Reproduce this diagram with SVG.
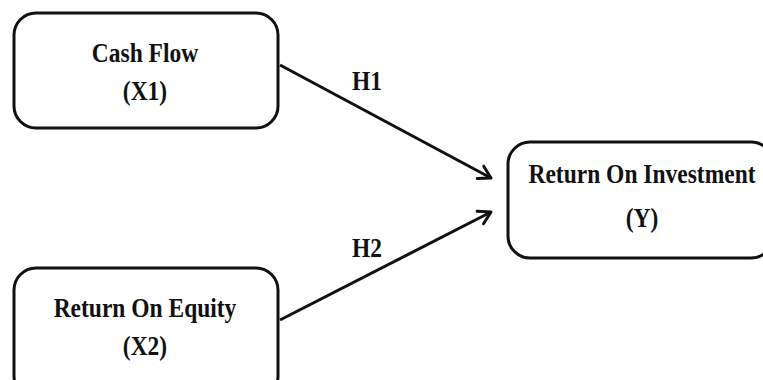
<svg xmlns="http://www.w3.org/2000/svg" width="763" height="380" viewBox="0 0 763 380">
<style>
.box{fill:#fff;stroke:#111;stroke-width:3}
.t{font-family:"Liberation Serif","Times New Roman",serif;font-weight:bold;font-size:23.5px;fill:#111;text-anchor:middle}
.c{stroke:#111;stroke-width:3;fill:none}
</style>
<defs>
<marker id="ah" markerUnits="userSpaceOnUse" markerWidth="20" markerHeight="20" refX="14" refY="8" orient="auto" viewBox="0 0 20 16">
<path d="M2,1 L14,8 L2,15" fill="none" stroke="#111" stroke-width="3" stroke-linecap="round" stroke-linejoin="round"/>
</marker>
</defs>
<rect width="763" height="380" fill="#fff"/>
<g id="connectors">
<line class="c" x1="280" y1="65" x2="491" y2="178" marker-end="url(#ah)"/>
<line class="c" x1="280" y1="320" x2="491" y2="212" marker-end="url(#ah)"/>
<text class="t" transform="translate(367,90) scale(1,1.12)" font-size="22">H1</text>
<text class="t" transform="translate(367,257) scale(1,1.12)" font-size="22">H2</text>
</g>
<g id="cashflow">
<rect class="box" x="14" y="13" width="264" height="115" rx="22"/>
<text class="t" transform="translate(145,62) scale(1,1.14)">Cash Flow</text>
<text class="t" transform="translate(145,100) scale(1,1.14)">(X1)</text>
</g>
<g id="roe">
<rect class="box" x="14" y="268" width="264" height="130" rx="22"/>
<text class="t" transform="translate(145,317) scale(1,1.14)">Return On Equity</text>
<text class="t" transform="translate(145,355) scale(1,1.14)">(X2)</text>
</g>
<g id="roi">
<rect class="box" x="508" y="142" width="265" height="116" rx="22"/>
<text class="t" transform="translate(642,183) scale(1,1.14)">Return On Investment</text>
<text class="t" transform="translate(642,227) scale(1,1.14)">(Y)</text>
</g>
</svg>
